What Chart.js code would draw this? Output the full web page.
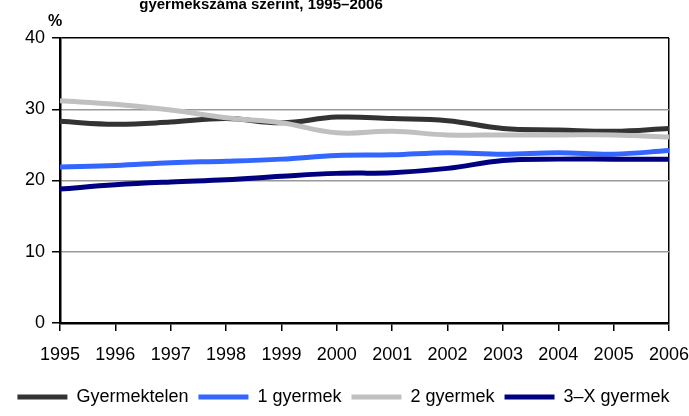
<!DOCTYPE html>
<html>
<head>
<meta charset="utf-8">
<script src="https://cdn.jsdelivr.net/npm/chart.js@4"></script>
<style>
  html, body { margin: 0; padding: 0; background: #fff; }
  #wrap { width: 689px; height: 416px; }
</style>
</head>
<body>
<div id="wrap"><canvas id="familyChart" width="689" height="416"></canvas></div>
<script>
// évek és arányok (%)
const years = ["1995", "1996", "1997", "1998", "1999", "2000", "2001", "2002", "2003", "2004", "2005", "2006"];
const childless = [28.3, 27.9, 28.2, 28.7, 28.1, 28.9, 28.7, 28.4, 27.3, 27.1, 26.9, 27.3];
const oneChild = [21.9, 22.1, 22.5, 22.7, 23.0, 23.5, 23.6, 23.9, 23.7, 23.9, 23.7, 24.2];
const twoChildren = [31.2, 30.7, 29.9, 28.8, 28.1, 26.7, 26.9, 26.4, 26.4, 26.4, 26.4, 26.1];
const threePlus = [18.8, 19.4, 19.8, 20.1, 20.6, 21.0, 21.1, 21.7, 22.8, 23.0, 23.0, 23.0];
const yTicks = [0, 10, 20, 30, 40];

const FONT = '"Liberation Sans", Arial, sans-serif';

// cím (felül levágva) és a "%" felirat
const extraText = {
  id: "extraText",
  afterDraw(chart) {
    const c = chart.ctx;
    c.save();
    c.fillStyle = "#000";
    c.textBaseline = "alphabetic";
    c.textAlign = "center";
    c.font = "bold 15px " + FONT;
    c.fillText("A háztartások megoszlása a háztartásban élő gyermekek", 261, -9);
    c.fillText("gyermekszáma szerint, 1995–2006", 261, 9);
    c.textAlign = "left";
    c.font = "bold 16px " + FONT;
    c.fillText("%", 48, 26);
    c.restore();
  },
};

const makeSet = (label, data, color, order) => ({
  label: label,
  data: data,
  borderColor: color,
  backgroundColor: color,
  borderWidth: 5,
  pointRadius: 0,
  tension: 0.4,
  fill: false,
  order: order,
});

const ctx = document.getElementById("familyChart").getContext("2d");

const familyChart = new Chart(ctx, {
  type: "line",
  data: {
    labels: years,
    datasets: [
      makeSet("Gyermektelen", childless, "#333333", 3),
      makeSet("1 gyermek", oneChild, "#3366FF", 2),
      makeSet("2 gyermek", twoChildren, "#C0C0C0", 1),
      makeSet("3–X gyermek", threePlus, "#000080", 0),
    ],
  },
  plugins: [extraText],
  options: {
    responsive: false,
    animation: false,
    layout: {
      padding: { top: 38, right: 2, left: 0, bottom: 0 },
    },
    plugins: {
      tooltip: { enabled: false },
      legend: {
        position: "bottom",
        labels: {
          color: "#000",
          font: { family: FONT, size: 18 },
          boxWidth: 50,
          boxHeight: 5,
          padding: 10,
          sort: (a, b) => a.datasetIndex - b.datasetIndex,
          generateLabels: (chart) =>
            Chart.defaults.plugins.legend.labels.generateLabels(chart).map((l) => ({ ...l, lineWidth: 0 })),
        },
      },
    },
    scales: {
      x: {
        offset: false,
        border: { color: "#000", width: 2.5 },
        grid: {
          drawOnChartArea: true,
          color: (c) => (c.index === years.length - 1 ? "#000" : "rgba(0,0,0,0)"),
          lineWidth: 1.5,
          tickColor: "#000",
          tickLength: 8,
        },
        ticks: {
          color: "#000",
          font: { family: FONT, size: 18 },
          padding: 13,
          maxRotation: 0,
          autoSkip: false,
        },
        afterFit: (scale) => {
          scale.height = 55;
          scale.paddingLeft = 0;
          scale.paddingRight = 20;
        },
      },
      y: {
        min: 0,
        max: 40,
        border: { color: "#000", width: 2.5 },
        afterBuildTicks: (scale) => {
          scale.ticks = yTicks.map((v) => ({ value: v }));
        },
        grid: {
          color: (c) => (c.tick.value === 40 ? "#000" : c.tick.value === 0 ? "rgba(0,0,0,0)" : "#999999"),
          lineWidth: 1.5,
          tickColor: "#000",
          tickLength: 8,
        },
        ticks: {
          color: "#000",
          font: { family: FONT, size: 18 },
          padding: 7,
        },
        afterFit: (scale) => {
          scale.width = 60;
        },
      },
    },
  },
});
</script>
</body>
</html>
